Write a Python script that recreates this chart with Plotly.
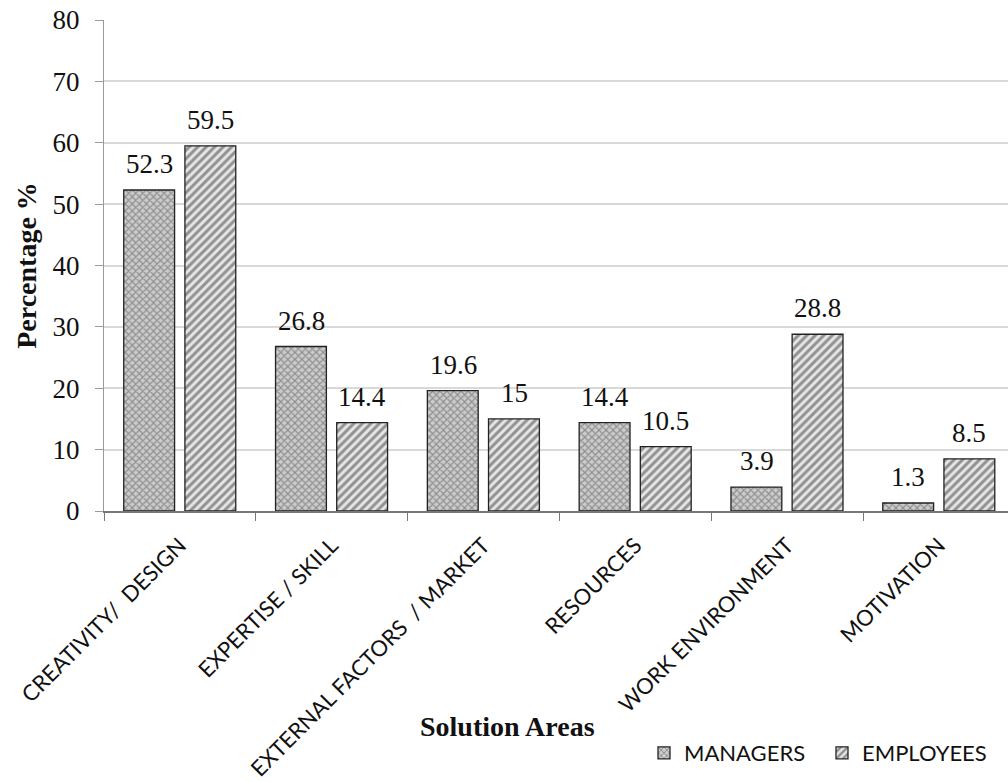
import plotly.graph_objects as go

# Solution areas and survey percentages
areas = [
    "CREATIVITY/  DESIGN",
    "EXPERTISE / SKILL",
    "EXTERNAL FACTORS  / MARKET",
    "RESOURCES",
    "WORK ENVIRONMENT",
    "MOTIVATION",
]
managers = [52.3, 26.8, 19.6, 14.4, 3.9, 1.3]
employees = [59.5, 14.4, 15, 10.5, 28.8, 8.5]
y_ticks = [0, 10, 20, 30, 40, 50, 60, 70, 80]

SERIF = "Liberation Serif"
SANS = "Lato"

# Plot-area geometry in pixels
W, H = 1008, 782
LEFT, TOP, BOTTOM = 104, 20, 511

fig = go.Figure()
fig.add_trace(go.Bar(
    name="MANAGERS", x=areas, y=managers,
    width=0.335, offset=-0.37,
    marker=dict(
        color="#c4c4c4",
        line=dict(color="#222222", width=1.3),
        pattern=dict(shape="x", fgcolor="#505050", bgcolor="#cbcbcb", size=5, solidity=0.4),
    ),
))
fig.add_trace(go.Bar(
    name="EMPLOYEES", x=areas, y=employees,
    width=0.335, offset=0.033,
    marker=dict(
        color="#aaaaaa",
        line=dict(color="#222222", width=1.3),
        pattern=dict(shape="/", fgcolor="#3c3c3c", bgcolor="#e6e6e6", size=6, solidity=0.5),
    ),
))

# Value labels above each bar
for i, area in enumerate(areas):
    for vals, shift in ((managers, -30.5), (employees, 30.5)):
        fig.add_annotation(
            x=area, y=vals[i], xref="x", yref="y",
            text=f"{vals[i]:g}", showarrow=False,
            yanchor="bottom", yshift=9, xshift=shift,
            font=dict(family=SERIF, size=27, color="#111111"),
        )

# X-axis title
fig.add_annotation(
    x=(507 - LEFT) / (W - LEFT), y=(BOTTOM - 727) / (BOTTOM - TOP),
    xref="paper", yref="paper", xanchor="center", yanchor="middle",
    text="<b>Solution Areas</b>", showarrow=False,
    font=dict(family=SERIF, size=28, color="#111111"),
)

fig.update_layout(
    width=W, height=H,
    margin=dict(l=LEFT, r=0, t=TOP, b=H - BOTTOM, autoexpand=False),
    paper_bgcolor="white", plot_bgcolor="white",
    barmode="overlay",
    showlegend=True,
    legend=dict(
        orientation="h", x=(644 - LEFT) / (W - LEFT), y=(BOTTOM - 753) / (BOTTOM - TOP),
        xanchor="left", yanchor="middle",
        font=dict(family=SANS, size=22, color="#111111"),
        itemwidth=30, tracegroupgap=0,
        entrywidth=133, entrywidthmode="pixels",
    ),
    xaxis=dict(
        range=[-0.5, 5.455],
        automargin=False,
        tickangle=-45,
        tickfont=dict(family=SANS, size=22, color="#111111"),
        showline=True, linecolor="#777777", linewidth=1.8,
        ticks="outside", tickson="boundaries", ticklen=8, tickcolor="#777777",
        ticklabelstandoff=11,
        showgrid=False,
    ),
    yaxis=dict(
        range=[0, 80], tickvals=y_ticks,
        automargin=False,
        tickfont=dict(family=SERIF, size=27, color="#111111"),
        showline=True, linecolor="#9a9a9a", linewidth=1,
        ticks="outside", ticklen=8, tickcolor="#9a9a9a",
        ticklabelstandoff=10,
        showgrid=True, gridcolor="#d9d9d9", gridwidth=1.5,
        zeroline=False,
        title=dict(text="<b>Percentage %</b>", font=dict(family=SERIF, size=28, color="#111111"), standoff=7),
    ),
)

fig.write_html("out.html")
